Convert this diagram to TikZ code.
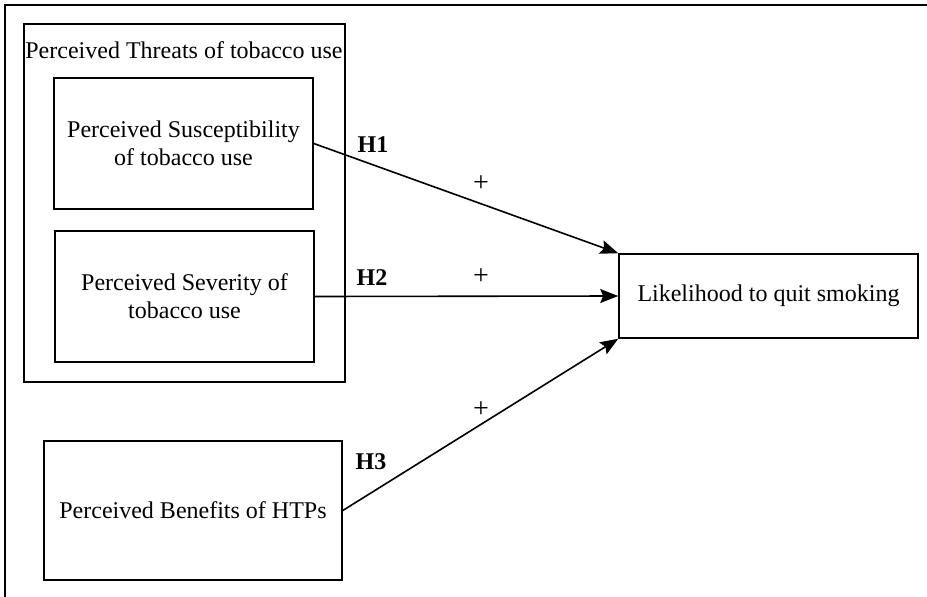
\documentclass[tikz,border=0pt]{standalone}
\usepackage{fontspec}
\setmainfont{Liberation Serif}
\usetikzlibrary{arrows.meta}
\begin{document}
\begin{tikzpicture}[x=1pt,y=-1pt,
  font=\fontsize{24}{28}\selectfont,
  box/.style={draw, line width=1.6pt, align=center, inner sep=0pt},
  hyp/.style={font=\fontsize{24}{28}\selectfont\bfseries},
  sign/.style={font=\fontsize{28}{30}\selectfont},
  conn/.style={line width=1.6pt, -{Stealth[length=18pt,width=14pt,inset=3pt]}}]
\useasboundingbox (0,0) rectangle (927,597);
\coordinate (ftr) at (927,5);
\coordinate (ftl) at (5,5);
\coordinate (fbl) at (5,597);
\draw[line width=1.6pt] (ftr) -- (ftl) -- (fbl);
\node[box, minimum width=321pt, minimum height=358pt] (grp) at (184.5,203) {};
\node (grplabel) at (184,50) {Perceived Threats of tobacco use};
\node[box, minimum width=259pt, minimum height=131pt] (sus) at (183.5,143.5) {Perceived Susceptibility\\of tobacco use};
\node[box, minimum width=259pt, minimum height=131pt] (sev) at (184.5,296.5) {Perceived Severity of\\tobacco use};
\node[box, minimum width=298pt, minimum height=139pt] (ben) at (193,510.5) {Perceived Benefits of HTPs};
\node[box, minimum width=299pt, minimum height=84pt] (lik) at (768.5,296) {Likelihood to quit smoking};
\draw[conn] (sus.east) -- (lik.north west);
\draw[conn] (sev.east) -- (lik.west);
\draw[conn] (ben.east) -- (lik.south west);
\node[hyp] (h1) at (373,145) {H1};
\node[hyp] (h2) at (372,278) {H2};
\node[hyp] (h3) at (371,462) {H3};
\node[sign] (p1) at (481,184) {+};
\node[sign] (p2) at (481,277) {+};
\node[sign] (p3) at (481,410) {+};
\end{tikzpicture}
\end{document}
